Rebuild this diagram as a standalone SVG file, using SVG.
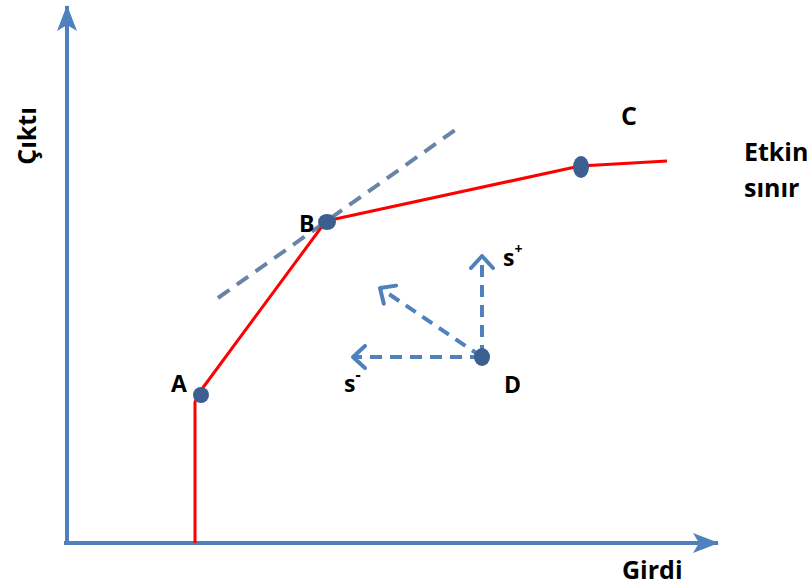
<svg xmlns="http://www.w3.org/2000/svg" width="808" height="586" viewBox="0 0 808 586">
<defs>
<marker id="axhead" viewBox="0 0 26 20" refX="25" refY="10" markerWidth="26" markerHeight="20" markerUnits="userSpaceOnUse" orient="auto">
<path d="M0,0 L26,10 L0,20 L6,10 Z" fill="#4f81bd"/>
</marker>
<marker id="chev" viewBox="0 0 16 26" refX="14" refY="13" markerWidth="16" markerHeight="26" markerUnits="userSpaceOnUse" orient="auto">
<path d="M2,2 L14,13 L2,24" fill="none" stroke="#4f81bd" stroke-width="4" stroke-linecap="round" stroke-linejoin="round"/>
</marker>
</defs>
<style>
.axis{stroke:#4f81bd;stroke-width:4;fill:none}
.frontier{stroke:#ff0000;stroke-width:3;fill:none;stroke-linejoin:round}
.dot{fill:#3b5f8e}
.dash{stroke:#4f81bd;stroke-width:4;stroke-dasharray:12 8;fill:none}
.tangent{stroke:#6a84a8;stroke-width:4;stroke-dasharray:14 9;fill:none}
text{font-family:"Open Sans","Liberation Sans",sans-serif;font-weight:bold;fill:#000}
.lbl{font-size:23px}
.big{font-size:25px}
</style>
<g id="connectors">
<line class="axis" x1="67" y1="545" x2="67" y2="6" marker-end="url(#axhead)"/>
<line class="axis" x1="64" y1="543" x2="718" y2="543" marker-end="url(#axhead)"/>
<line id="tangent" class="tangent" x1="218" y1="298" x2="458" y2="128"/>
<polyline id="frontier" class="frontier" points="195,543 195,402 199,393 326,221 580,166 667,161"/>
<line class="dash" x1="482" y1="357" x2="482" y2="256" marker-end="url(#chev)"/>
<line class="dash" x1="482" y1="357" x2="380" y2="288" marker-end="url(#chev)"/>
<line class="dash" x1="482" y1="357" x2="353" y2="357" marker-end="url(#chev)"/>
</g>
<g id="A"><ellipse class="dot" cx="201" cy="395" rx="8" ry="8"/><text class="lbl" x="171" y="392">A</text></g>
<g id="B"><ellipse class="dot" cx="327" cy="222" rx="9" ry="8"/><text class="lbl" x="299" y="232">B</text></g>
<g id="C"><ellipse class="dot" cx="581" cy="167" rx="8" ry="11"/><text class="big" x="621" y="125">C</text></g>
<g id="D"><ellipse class="dot" cx="482" cy="357" rx="8" ry="9"/><text class="lbl" x="504" y="393">D</text></g>
<g id="splus"><text class="lbl" x="503" y="266">s<tspan font-size="14" dy="-12">+</tspan></text></g>
<g id="sminus"><text class="lbl" x="344" y="392">s<tspan font-size="16" dy="-12">-</tspan></text></g>
<g id="labels">
<text class="big" transform="translate(36,136) rotate(-90)" text-anchor="middle">Çıktı</text>
<text class="big" x="744" y="161">Etkin</text>
<text class="big" x="744" y="197">sınır</text>
<text class="big" x="622" y="579">Girdi</text>
</g>
</svg>
